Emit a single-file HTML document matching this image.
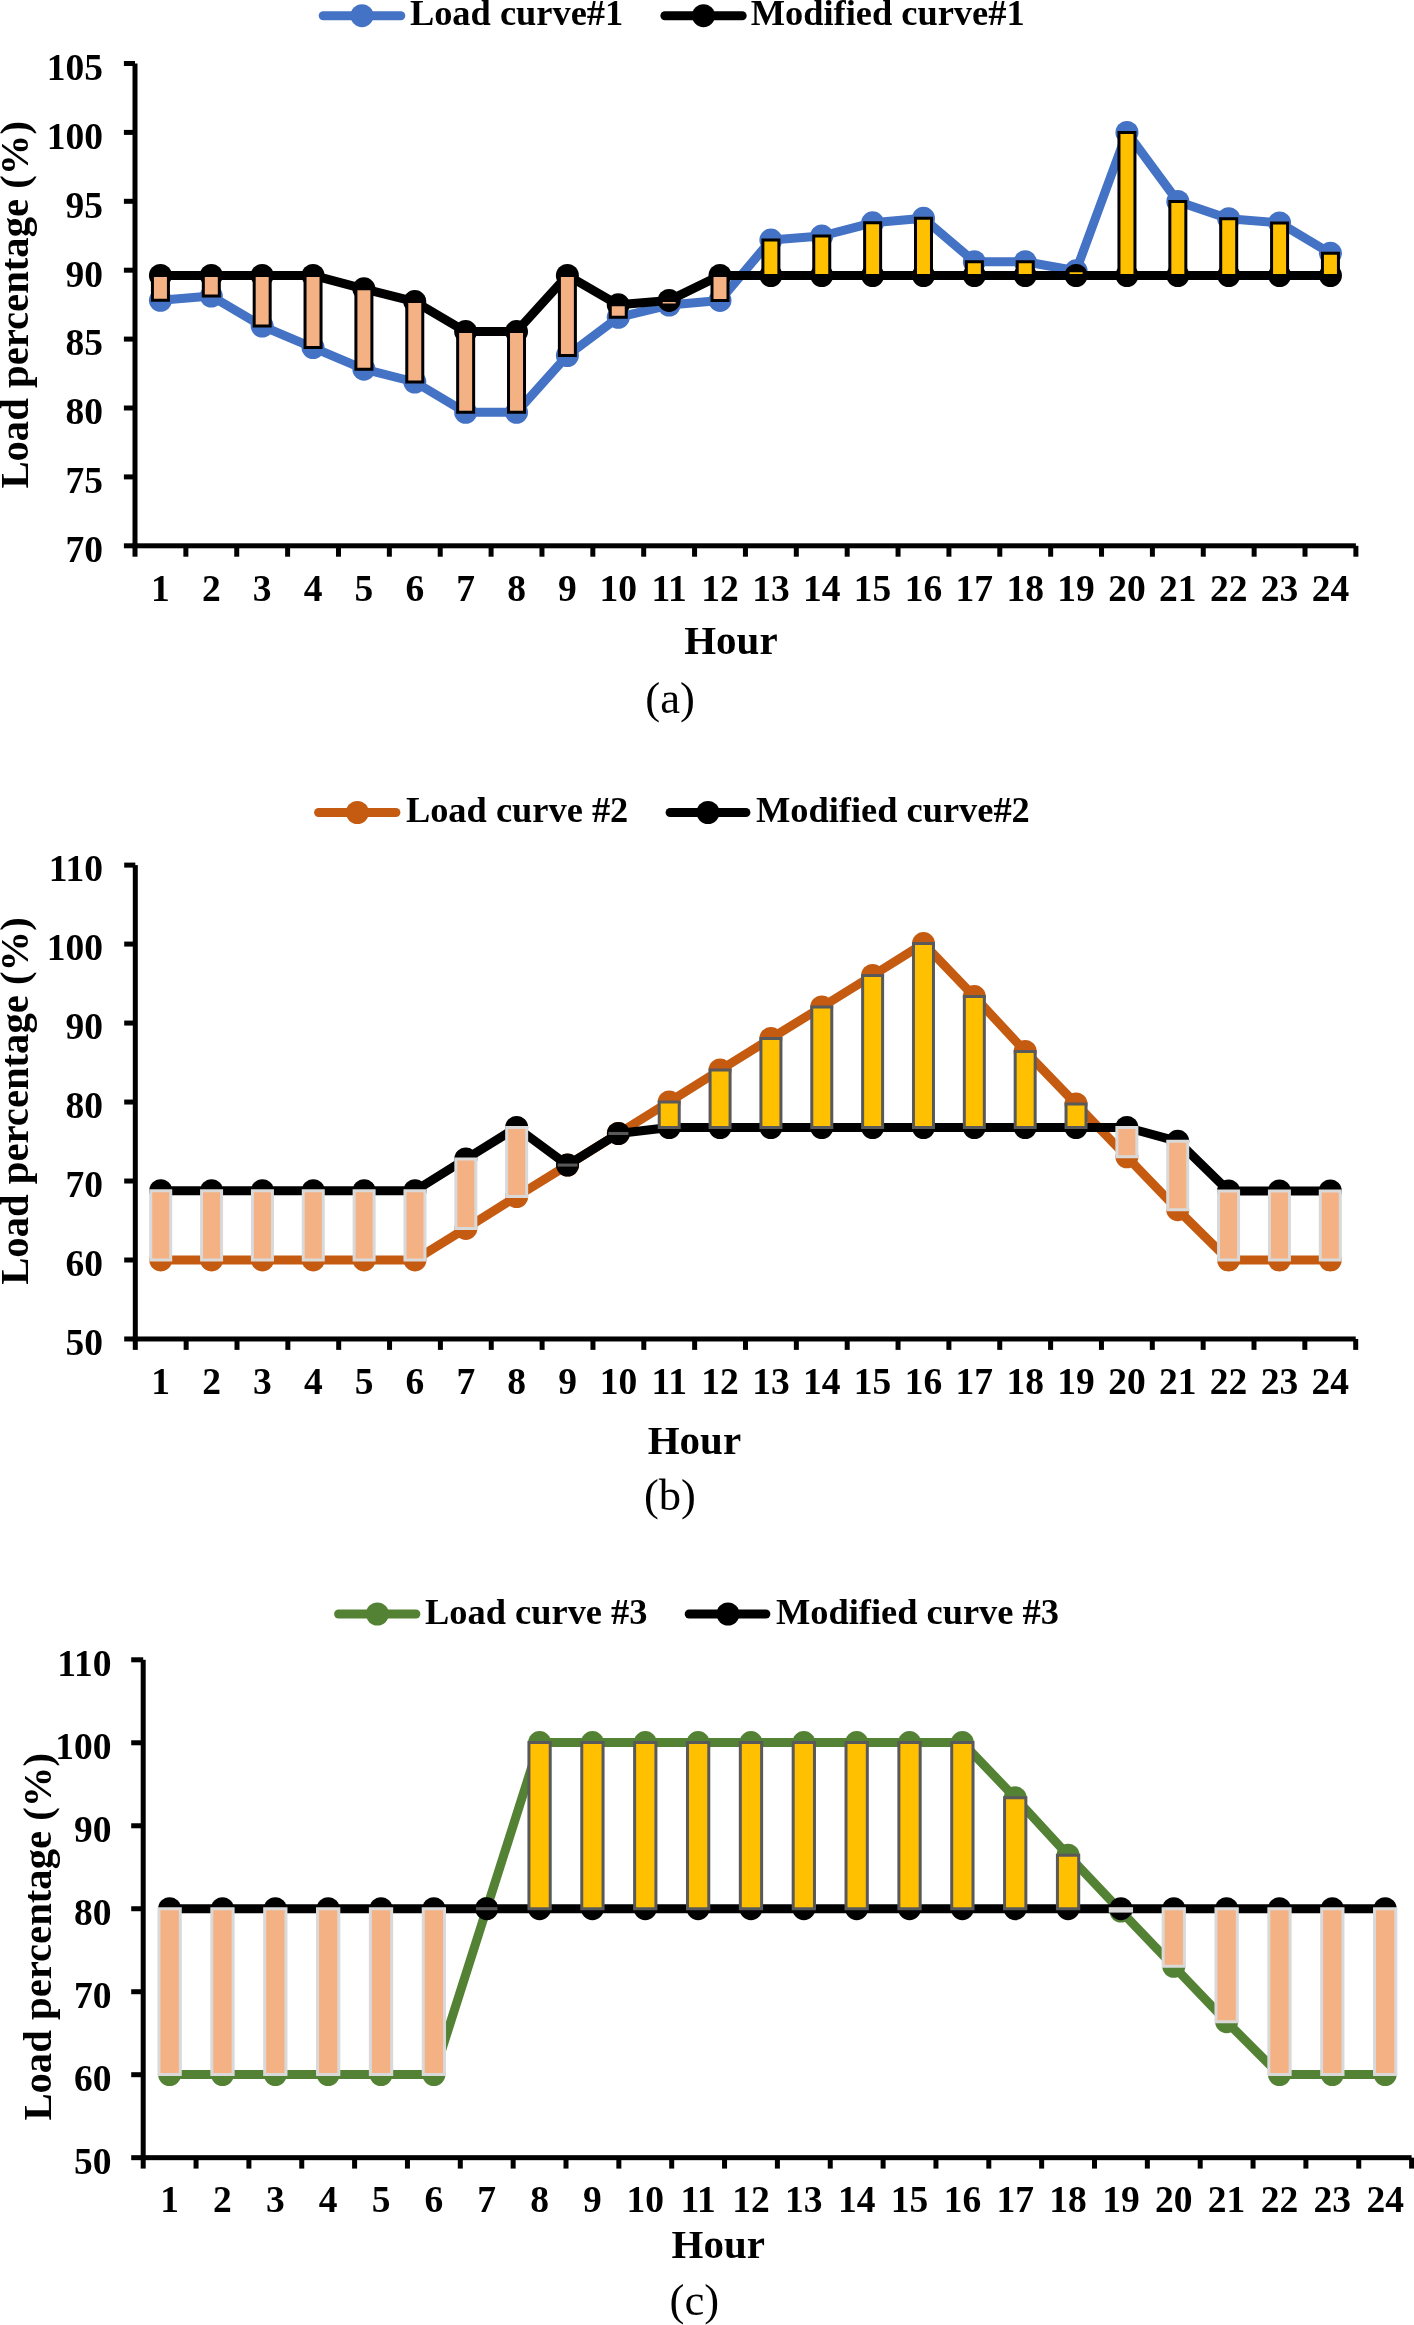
<!DOCTYPE html>
<html><head><meta charset="utf-8"><title>Load curves</title>
<style>html,body{margin:0;padding:0;background:#fff;}svg{display:block;}svg{will-change:transform;}</style>
</head><body>
<svg width="1414" height="2325" viewBox="0 0 1414 2325" font-family='"Liberation Serif", serif'>
<rect width="1414" height="2325" fill="#fff"/>
<g fill="#000">
<rect x="132.5" y="63.5" width="5" height="493.2"/>
<rect x="132.5" y="543.3" width="1223.38" height="5"/>
<rect x="123.9" y="543.3" width="11.1" height="5"/>
<rect x="123.9" y="474.4" width="11.1" height="5"/>
<rect x="123.9" y="405.5" width="11.1" height="5"/>
<rect x="123.9" y="336.6" width="11.1" height="5"/>
<rect x="123.9" y="267.7" width="11.1" height="5"/>
<rect x="123.9" y="198.8" width="11.1" height="5"/>
<rect x="123.9" y="129.9" width="11.1" height="5"/>
<rect x="123.9" y="61" width="11.1" height="5"/>
<rect x="183.37" y="545.8" width="5" height="10.9"/>
<rect x="234.24" y="545.8" width="5" height="10.9"/>
<rect x="285.11" y="545.8" width="5" height="10.9"/>
<rect x="335.98" y="545.8" width="5" height="10.9"/>
<rect x="386.85" y="545.8" width="5" height="10.9"/>
<rect x="437.72" y="545.8" width="5" height="10.9"/>
<rect x="488.59" y="545.8" width="5" height="10.9"/>
<rect x="539.46" y="545.8" width="5" height="10.9"/>
<rect x="590.33" y="545.8" width="5" height="10.9"/>
<rect x="641.2" y="545.8" width="5" height="10.9"/>
<rect x="692.07" y="545.8" width="5" height="10.9"/>
<rect x="742.94" y="545.8" width="5" height="10.9"/>
<rect x="793.81" y="545.8" width="5" height="10.9"/>
<rect x="844.68" y="545.8" width="5" height="10.9"/>
<rect x="895.55" y="545.8" width="5" height="10.9"/>
<rect x="946.42" y="545.8" width="5" height="10.9"/>
<rect x="997.29" y="545.8" width="5" height="10.9"/>
<rect x="1048.16" y="545.8" width="5" height="10.9"/>
<rect x="1099.03" y="545.8" width="5" height="10.9"/>
<rect x="1149.9" y="545.8" width="5" height="10.9"/>
<rect x="1200.77" y="545.8" width="5" height="10.9"/>
<rect x="1251.64" y="545.8" width="5" height="10.9"/>
<rect x="1302.51" y="545.8" width="5" height="10.9"/>
<rect x="1353.38" y="545.8" width="5" height="10.9"/>
</g>
<text x="103" y="562.1" font-size="37.5" text-anchor="end" font-weight="bold" >70</text>
<text x="103" y="493.2" font-size="37.5" text-anchor="end" font-weight="bold" >75</text>
<text x="103" y="424.3" font-size="37.5" text-anchor="end" font-weight="bold" >80</text>
<text x="103" y="355.4" font-size="37.5" text-anchor="end" font-weight="bold" >85</text>
<text x="103" y="286.5" font-size="37.5" text-anchor="end" font-weight="bold" >90</text>
<text x="103" y="217.6" font-size="37.5" text-anchor="end" font-weight="bold" >95</text>
<text x="103" y="148.7" font-size="37.5" text-anchor="end" font-weight="bold" >100</text>
<text x="103" y="79.8" font-size="37.5" text-anchor="end" font-weight="bold" >105</text>
<text x="160.44" y="601.3" font-size="37.5" text-anchor="middle" font-weight="bold" >1</text>
<text x="211.31" y="601.3" font-size="37.5" text-anchor="middle" font-weight="bold" >2</text>
<text x="262.18" y="601.3" font-size="37.5" text-anchor="middle" font-weight="bold" >3</text>
<text x="313.04" y="601.3" font-size="37.5" text-anchor="middle" font-weight="bold" >4</text>
<text x="363.91" y="601.3" font-size="37.5" text-anchor="middle" font-weight="bold" >5</text>
<text x="414.78" y="601.3" font-size="37.5" text-anchor="middle" font-weight="bold" >6</text>
<text x="465.65" y="601.3" font-size="37.5" text-anchor="middle" font-weight="bold" >7</text>
<text x="516.52" y="601.3" font-size="37.5" text-anchor="middle" font-weight="bold" >8</text>
<text x="567.39" y="601.3" font-size="37.5" text-anchor="middle" font-weight="bold" >9</text>
<text x="618.26" y="601.3" font-size="37.5" text-anchor="middle" font-weight="bold" >10</text>
<text x="669.13" y="601.3" font-size="37.5" text-anchor="middle" font-weight="bold" >11</text>
<text x="720" y="601.3" font-size="37.5" text-anchor="middle" font-weight="bold" >12</text>
<text x="770.88" y="601.3" font-size="37.5" text-anchor="middle" font-weight="bold" >13</text>
<text x="821.75" y="601.3" font-size="37.5" text-anchor="middle" font-weight="bold" >14</text>
<text x="872.62" y="601.3" font-size="37.5" text-anchor="middle" font-weight="bold" >15</text>
<text x="923.49" y="601.3" font-size="37.5" text-anchor="middle" font-weight="bold" >16</text>
<text x="974.35" y="601.3" font-size="37.5" text-anchor="middle" font-weight="bold" >17</text>
<text x="1025.22" y="601.3" font-size="37.5" text-anchor="middle" font-weight="bold" >18</text>
<text x="1076.09" y="601.3" font-size="37.5" text-anchor="middle" font-weight="bold" >19</text>
<text x="1126.96" y="601.3" font-size="37.5" text-anchor="middle" font-weight="bold" >20</text>
<text x="1177.84" y="601.3" font-size="37.5" text-anchor="middle" font-weight="bold" >21</text>
<text x="1228.7" y="601.3" font-size="37.5" text-anchor="middle" font-weight="bold" >22</text>
<text x="1279.58" y="601.3" font-size="37.5" text-anchor="middle" font-weight="bold" >23</text>
<text x="1330.44" y="601.3" font-size="37.5" text-anchor="middle" font-weight="bold" >24</text>
<text x="730.9" y="653.5" font-size="41" text-anchor="middle" font-weight="bold" >Hour</text>
<text x="28" y="304.8" font-size="40.7" text-anchor="middle" font-weight="bold" transform="rotate(-90 28 304.8)">Load percentage (%)</text>
<text x="670.1" y="712.8" font-size="44.7" text-anchor="middle" font-weight="normal" >(a)</text>
<line x1="323.2" y1="15.7" x2="400.8" y2="15.7" stroke="#4472C4" stroke-width="9" stroke-linecap="round"/>
<circle cx="362" cy="15.7" r="11.5" fill="#4472C4"/>
<text x="409.9" y="24.8" font-size="36.4" text-anchor="start" font-weight="bold" >Load curve#1</text>
<line x1="664.9" y1="15.7" x2="742.2" y2="15.7" stroke="#000" stroke-width="9" stroke-linecap="round"/>
<circle cx="703.5" cy="15.7" r="11.5" fill="#000"/>
<text x="750.7" y="24.8" font-size="36.4" text-anchor="start" font-weight="bold" >Modified curve#1</text>
<polyline points="160.44,300.3 211.31,296.1 262.18,326.1 313.04,347.6 363.91,369.2 414.78,382 465.65,412.3 516.52,412.3 567.39,355.5 618.26,317.3 669.13,305.1 720,300.4 770.88,240.1 821.75,236 872.62,222.8 923.49,218.3 974.35,261.7 1025.22,261.7 1076.09,270.8 1126.96,132.5 1177.84,201.5 1228.7,218.7 1279.58,222.9 1330.44,253.3" fill="none" stroke="#4472C4" stroke-width="9" stroke-linejoin="round" stroke-linecap="round"/>
<g fill="#4472C4"><circle cx="160.44" cy="300.3" r="11.5"/><circle cx="211.31" cy="296.1" r="11.5"/><circle cx="262.18" cy="326.1" r="11.5"/><circle cx="313.04" cy="347.6" r="11.5"/><circle cx="363.91" cy="369.2" r="11.5"/><circle cx="414.78" cy="382" r="11.5"/><circle cx="465.65" cy="412.3" r="11.5"/><circle cx="516.52" cy="412.3" r="11.5"/><circle cx="567.39" cy="355.5" r="11.5"/><circle cx="618.26" cy="317.3" r="11.5"/><circle cx="669.13" cy="305.1" r="11.5"/><circle cx="720" cy="300.4" r="11.5"/><circle cx="770.88" cy="240.1" r="11.5"/><circle cx="821.75" cy="236" r="11.5"/><circle cx="872.62" cy="222.8" r="11.5"/><circle cx="923.49" cy="218.3" r="11.5"/><circle cx="974.35" cy="261.7" r="11.5"/><circle cx="1025.22" cy="261.7" r="11.5"/><circle cx="1076.09" cy="270.8" r="11.5"/><circle cx="1126.96" cy="132.5" r="11.5"/><circle cx="1177.84" cy="201.5" r="11.5"/><circle cx="1228.7" cy="218.7" r="11.5"/><circle cx="1279.58" cy="222.9" r="11.5"/><circle cx="1330.44" cy="253.3" r="11.5"/></g>
<polyline points="160.44,275.4 211.31,275.4 262.18,275.4 313.04,275.4 363.91,288.8 414.78,301.6 465.65,331.6 516.52,331.6 567.39,275.4 618.26,304.8 669.13,300.4 720,275.5 770.88,275.5 821.75,275.5 872.62,275.5 923.49,275.5 974.35,275.5 1025.22,275.5 1076.09,275.5 1126.96,275.5 1177.84,275.5 1228.7,275.5 1279.58,275.5 1330.44,275.5" fill="none" stroke="#000" stroke-width="9" stroke-linejoin="round" stroke-linecap="round"/>
<g fill="#000"><circle cx="160.44" cy="275.4" r="11.5"/><circle cx="211.31" cy="275.4" r="11.5"/><circle cx="262.18" cy="275.4" r="11.5"/><circle cx="313.04" cy="275.4" r="11.5"/><circle cx="363.91" cy="288.8" r="11.5"/><circle cx="414.78" cy="301.6" r="11.5"/><circle cx="465.65" cy="331.6" r="11.5"/><circle cx="516.52" cy="331.6" r="11.5"/><circle cx="567.39" cy="275.4" r="11.5"/><circle cx="618.26" cy="304.8" r="11.5"/><circle cx="669.13" cy="300.4" r="11.5"/><circle cx="720" cy="275.5" r="11.5"/><circle cx="770.88" cy="275.5" r="11.5"/><circle cx="821.75" cy="275.5" r="11.5"/><circle cx="872.62" cy="275.5" r="11.5"/><circle cx="923.49" cy="275.5" r="11.5"/><circle cx="974.35" cy="275.5" r="11.5"/><circle cx="1025.22" cy="275.5" r="11.5"/><circle cx="1076.09" cy="275.5" r="11.5"/><circle cx="1126.96" cy="275.5" r="11.5"/><circle cx="1177.84" cy="275.5" r="11.5"/><circle cx="1228.7" cy="275.5" r="11.5"/><circle cx="1279.58" cy="275.5" r="11.5"/><circle cx="1330.44" cy="275.5" r="11.5"/></g>
<path d="M152.44 275.4h16v24.9h-16z" fill="#F4B183" stroke="#000" stroke-width="3"/>
<path d="M203.31 275.4h16v20.7h-16z" fill="#F4B183" stroke="#000" stroke-width="3"/>
<path d="M254.18 275.4h16v50.7h-16z" fill="#F4B183" stroke="#000" stroke-width="3"/>
<path d="M305.04 275.4h16v72.2h-16z" fill="#F4B183" stroke="#000" stroke-width="3"/>
<path d="M355.91 288.8h16v80.4h-16z" fill="#F4B183" stroke="#000" stroke-width="3"/>
<path d="M406.78 301.6h16v80.4h-16z" fill="#F4B183" stroke="#000" stroke-width="3"/>
<path d="M457.65 331.6h16v80.7h-16z" fill="#F4B183" stroke="#000" stroke-width="3"/>
<path d="M508.52 331.6h16v80.7h-16z" fill="#F4B183" stroke="#000" stroke-width="3"/>
<path d="M559.39 275.4h16v80.1h-16z" fill="#F4B183" stroke="#000" stroke-width="3"/>
<path d="M610.26 304.8h16v12.5h-16z" fill="#F4B183" stroke="#000" stroke-width="3"/>
<path d="M661.13 300.4h16v4.7h-16z" fill="#F4B183" stroke="#000" stroke-width="3"/>
<path d="M712 275.5h16v24.9h-16z" fill="#F4B183" stroke="#000" stroke-width="3"/>
<path d="M762.88 240.1h16v35.4h-16z" fill="#FFC000" stroke="#000" stroke-width="3"/>
<path d="M813.75 236h16v39.5h-16z" fill="#FFC000" stroke="#000" stroke-width="3"/>
<path d="M864.62 222.8h16v52.7h-16z" fill="#FFC000" stroke="#000" stroke-width="3"/>
<path d="M915.49 218.3h16v57.2h-16z" fill="#FFC000" stroke="#000" stroke-width="3"/>
<path d="M966.35 261.7h16v13.8h-16z" fill="#FFC000" stroke="#000" stroke-width="3"/>
<path d="M1017.22 261.7h16v13.8h-16z" fill="#FFC000" stroke="#000" stroke-width="3"/>
<path d="M1068.09 270.8h16v4.7h-16z" fill="#FFC000" stroke="#000" stroke-width="3"/>
<path d="M1118.96 132.5h16v143h-16z" fill="#FFC000" stroke="#000" stroke-width="3"/>
<path d="M1169.84 201.5h16v74h-16z" fill="#FFC000" stroke="#000" stroke-width="3"/>
<path d="M1220.7 218.7h16v56.8h-16z" fill="#FFC000" stroke="#000" stroke-width="3"/>
<path d="M1271.58 222.9h16v52.6h-16z" fill="#FFC000" stroke="#000" stroke-width="3"/>
<path d="M1322.44 253.3h16v22.2h-16z" fill="#FFC000" stroke="#000" stroke-width="3"/>
<g fill="#000">
<rect x="132.8" y="865.1" width="5" height="484.78"/>
<rect x="132.8" y="1336.48" width="1222.9" height="5"/>
<rect x="124.2" y="1336.48" width="11.1" height="5"/>
<rect x="124.2" y="1257.5" width="11.1" height="5"/>
<rect x="124.2" y="1178.52" width="11.1" height="5"/>
<rect x="124.2" y="1099.54" width="11.1" height="5"/>
<rect x="124.2" y="1020.56" width="11.1" height="5"/>
<rect x="124.2" y="941.58" width="11.1" height="5"/>
<rect x="124.2" y="862.6" width="11.1" height="5"/>
<rect x="183.65" y="1338.98" width="5" height="10.9"/>
<rect x="234.5" y="1338.98" width="5" height="10.9"/>
<rect x="285.35" y="1338.98" width="5" height="10.9"/>
<rect x="336.2" y="1338.98" width="5" height="10.9"/>
<rect x="387.05" y="1338.98" width="5" height="10.9"/>
<rect x="437.9" y="1338.98" width="5" height="10.9"/>
<rect x="488.75" y="1338.98" width="5" height="10.9"/>
<rect x="539.6" y="1338.98" width="5" height="10.9"/>
<rect x="590.45" y="1338.98" width="5" height="10.9"/>
<rect x="641.3" y="1338.98" width="5" height="10.9"/>
<rect x="692.15" y="1338.98" width="5" height="10.9"/>
<rect x="743" y="1338.98" width="5" height="10.9"/>
<rect x="793.85" y="1338.98" width="5" height="10.9"/>
<rect x="844.7" y="1338.98" width="5" height="10.9"/>
<rect x="895.55" y="1338.98" width="5" height="10.9"/>
<rect x="946.4" y="1338.98" width="5" height="10.9"/>
<rect x="997.25" y="1338.98" width="5" height="10.9"/>
<rect x="1048.1" y="1338.98" width="5" height="10.9"/>
<rect x="1098.95" y="1338.98" width="5" height="10.9"/>
<rect x="1149.8" y="1338.98" width="5" height="10.9"/>
<rect x="1200.65" y="1338.98" width="5" height="10.9"/>
<rect x="1251.5" y="1338.98" width="5" height="10.9"/>
<rect x="1302.35" y="1338.98" width="5" height="10.9"/>
<rect x="1353.2" y="1338.98" width="5" height="10.9"/>
</g>
<text x="103" y="1355.28" font-size="37.5" text-anchor="end" font-weight="bold" >50</text>
<text x="103" y="1276.3" font-size="37.5" text-anchor="end" font-weight="bold" >60</text>
<text x="103" y="1197.32" font-size="37.5" text-anchor="end" font-weight="bold" >70</text>
<text x="103" y="1118.34" font-size="37.5" text-anchor="end" font-weight="bold" >80</text>
<text x="103" y="1039.36" font-size="37.5" text-anchor="end" font-weight="bold" >90</text>
<text x="103" y="960.38" font-size="37.5" text-anchor="end" font-weight="bold" >100</text>
<text x="103" y="881.4" font-size="37.5" text-anchor="end" font-weight="bold" >110</text>
<text x="160.73" y="1394.1" font-size="37.5" text-anchor="middle" font-weight="bold" >1</text>
<text x="211.58" y="1394.1" font-size="37.5" text-anchor="middle" font-weight="bold" >2</text>
<text x="262.43" y="1394.1" font-size="37.5" text-anchor="middle" font-weight="bold" >3</text>
<text x="313.27" y="1394.1" font-size="37.5" text-anchor="middle" font-weight="bold" >4</text>
<text x="364.12" y="1394.1" font-size="37.5" text-anchor="middle" font-weight="bold" >5</text>
<text x="414.98" y="1394.1" font-size="37.5" text-anchor="middle" font-weight="bold" >6</text>
<text x="465.83" y="1394.1" font-size="37.5" text-anchor="middle" font-weight="bold" >7</text>
<text x="516.67" y="1394.1" font-size="37.5" text-anchor="middle" font-weight="bold" >8</text>
<text x="567.53" y="1394.1" font-size="37.5" text-anchor="middle" font-weight="bold" >9</text>
<text x="618.38" y="1394.1" font-size="37.5" text-anchor="middle" font-weight="bold" >10</text>
<text x="669.23" y="1394.1" font-size="37.5" text-anchor="middle" font-weight="bold" >11</text>
<text x="720.08" y="1394.1" font-size="37.5" text-anchor="middle" font-weight="bold" >12</text>
<text x="770.92" y="1394.1" font-size="37.5" text-anchor="middle" font-weight="bold" >13</text>
<text x="821.78" y="1394.1" font-size="37.5" text-anchor="middle" font-weight="bold" >14</text>
<text x="872.62" y="1394.1" font-size="37.5" text-anchor="middle" font-weight="bold" >15</text>
<text x="923.48" y="1394.1" font-size="37.5" text-anchor="middle" font-weight="bold" >16</text>
<text x="974.33" y="1394.1" font-size="37.5" text-anchor="middle" font-weight="bold" >17</text>
<text x="1025.17" y="1394.1" font-size="37.5" text-anchor="middle" font-weight="bold" >18</text>
<text x="1076.03" y="1394.1" font-size="37.5" text-anchor="middle" font-weight="bold" >19</text>
<text x="1126.88" y="1394.1" font-size="37.5" text-anchor="middle" font-weight="bold" >20</text>
<text x="1177.72" y="1394.1" font-size="37.5" text-anchor="middle" font-weight="bold" >21</text>
<text x="1228.58" y="1394.1" font-size="37.5" text-anchor="middle" font-weight="bold" >22</text>
<text x="1279.42" y="1394.1" font-size="37.5" text-anchor="middle" font-weight="bold" >23</text>
<text x="1330.28" y="1394.1" font-size="37.5" text-anchor="middle" font-weight="bold" >24</text>
<text x="694.4" y="1453.9" font-size="41" text-anchor="middle" font-weight="bold" >Hour</text>
<text x="27.5" y="1101" font-size="40.7" text-anchor="middle" font-weight="bold" transform="rotate(-90 27.5 1101)">Load percentage (%)</text>
<text x="670" y="1510.1" font-size="44.5" text-anchor="middle" font-weight="normal" >(b)</text>
<line x1="318.6" y1="812.5" x2="395.9" y2="812.5" stroke="#C55A11" stroke-width="9" stroke-linecap="round"/>
<circle cx="357.4" cy="812.5" r="11.5" fill="#C55A11"/>
<text x="405.9" y="821.9" font-size="36.4" text-anchor="start" font-weight="bold" >Load curve #2</text>
<line x1="670.1" y1="812.5" x2="745.9" y2="812.5" stroke="#000" stroke-width="9" stroke-linecap="round"/>
<circle cx="708" cy="812.5" r="11.5" fill="#000"/>
<text x="755.9" y="821.9" font-size="36.4" text-anchor="start" font-weight="bold" >Modified curve#2</text>
<polyline points="160.73,1259.9 211.58,1259.9 262.43,1259.9 313.27,1259.9 364.12,1259.9 414.98,1259.9 465.83,1228.4 516.67,1196.5 567.53,1165.05 618.38,1133.45 669.23,1101.9 720.08,1070 770.92,1038.4 821.78,1007 872.62,975.5 923.48,943.6 974.33,996.6 1025.17,1051.4 1076.03,1104 1126.88,1156.8 1177.72,1209.7 1228.58,1260 1279.42,1260 1330.28,1260" fill="none" stroke="#C55A11" stroke-width="9" stroke-linejoin="round" stroke-linecap="round"/>
<g fill="#C55A11"><circle cx="160.73" cy="1259.9" r="11.5"/><circle cx="211.58" cy="1259.9" r="11.5"/><circle cx="262.43" cy="1259.9" r="11.5"/><circle cx="313.27" cy="1259.9" r="11.5"/><circle cx="364.12" cy="1259.9" r="11.5"/><circle cx="414.98" cy="1259.9" r="11.5"/><circle cx="465.83" cy="1228.4" r="11.5"/><circle cx="516.67" cy="1196.5" r="11.5"/><circle cx="567.53" cy="1165.05" r="11.5"/><circle cx="618.38" cy="1133.45" r="11.5"/><circle cx="669.23" cy="1101.9" r="11.5"/><circle cx="720.08" cy="1070" r="11.5"/><circle cx="770.92" cy="1038.4" r="11.5"/><circle cx="821.78" cy="1007" r="11.5"/><circle cx="872.62" cy="975.5" r="11.5"/><circle cx="923.48" cy="943.6" r="11.5"/><circle cx="974.33" cy="996.6" r="11.5"/><circle cx="1025.17" cy="1051.4" r="11.5"/><circle cx="1076.03" cy="1104" r="11.5"/><circle cx="1126.88" cy="1156.8" r="11.5"/><circle cx="1177.72" cy="1209.7" r="11.5"/><circle cx="1228.58" cy="1260" r="11.5"/><circle cx="1279.42" cy="1260" r="11.5"/><circle cx="1330.28" cy="1260" r="11.5"/></g>
<polyline points="160.73,1190.7 211.58,1190.7 262.43,1190.7 313.27,1190.7 364.12,1190.7 414.98,1190.7 465.83,1159 516.67,1127.5 567.53,1165.1 618.38,1133.5 669.23,1127.5 720.08,1127.5 770.92,1127.5 821.78,1127.5 872.62,1127.5 923.48,1127.5 974.33,1127.5 1025.17,1127.5 1076.03,1127.5 1126.88,1127.5 1177.72,1141.3 1228.58,1191 1279.42,1191 1330.28,1191" fill="none" stroke="#000" stroke-width="9" stroke-linejoin="round" stroke-linecap="round"/>
<g fill="#000"><circle cx="160.73" cy="1190.7" r="11.5"/><circle cx="211.58" cy="1190.7" r="11.5"/><circle cx="262.43" cy="1190.7" r="11.5"/><circle cx="313.27" cy="1190.7" r="11.5"/><circle cx="364.12" cy="1190.7" r="11.5"/><circle cx="414.98" cy="1190.7" r="11.5"/><circle cx="465.83" cy="1159" r="11.5"/><circle cx="516.67" cy="1127.5" r="11.5"/><circle cx="567.53" cy="1165.1" r="11.5"/><circle cx="618.38" cy="1133.5" r="11.5"/><circle cx="669.23" cy="1127.5" r="11.5"/><circle cx="720.08" cy="1127.5" r="11.5"/><circle cx="770.92" cy="1127.5" r="11.5"/><circle cx="821.78" cy="1127.5" r="11.5"/><circle cx="872.62" cy="1127.5" r="11.5"/><circle cx="923.48" cy="1127.5" r="11.5"/><circle cx="974.33" cy="1127.5" r="11.5"/><circle cx="1025.17" cy="1127.5" r="11.5"/><circle cx="1076.03" cy="1127.5" r="11.5"/><circle cx="1126.88" cy="1127.5" r="11.5"/><circle cx="1177.72" cy="1141.3" r="11.5"/><circle cx="1228.58" cy="1191" r="11.5"/><circle cx="1279.42" cy="1191" r="11.5"/><circle cx="1330.28" cy="1191" r="11.5"/></g>
<path d="M150.73 1190.7h20v69.2h-20z" fill="#F4B183" stroke="#D9D9D9" stroke-width="3"/>
<path d="M201.58 1190.7h20v69.2h-20z" fill="#F4B183" stroke="#D9D9D9" stroke-width="3"/>
<path d="M252.43 1190.7h20v69.2h-20z" fill="#F4B183" stroke="#D9D9D9" stroke-width="3"/>
<path d="M303.27 1190.7h20v69.2h-20z" fill="#F4B183" stroke="#D9D9D9" stroke-width="3"/>
<path d="M354.12 1190.7h20v69.2h-20z" fill="#F4B183" stroke="#D9D9D9" stroke-width="3"/>
<path d="M404.98 1190.7h20v69.2h-20z" fill="#F4B183" stroke="#D9D9D9" stroke-width="3"/>
<path d="M455.83 1159h20v69.4h-20z" fill="#F4B183" stroke="#D9D9D9" stroke-width="3"/>
<path d="M506.67 1127.5h20v69h-20z" fill="#F4B183" stroke="#D9D9D9" stroke-width="3"/>
<rect x="557.53" y="1163.57" width="20" height="3.05" fill="#595959"/>
<rect x="608.38" y="1131.97" width="20" height="3.05" fill="#595959"/>
<path d="M659.23 1101.9h20v25.6h-20z" fill="#FFC000" stroke="#595959" stroke-width="3"/>
<path d="M710.08 1070h20v57.5h-20z" fill="#FFC000" stroke="#595959" stroke-width="3"/>
<path d="M760.92 1038.4h20v89.1h-20z" fill="#FFC000" stroke="#595959" stroke-width="3"/>
<path d="M811.78 1007h20v120.5h-20z" fill="#FFC000" stroke="#595959" stroke-width="3"/>
<path d="M862.62 975.5h20v152h-20z" fill="#FFC000" stroke="#595959" stroke-width="3"/>
<path d="M913.48 943.6h20v183.9h-20z" fill="#FFC000" stroke="#595959" stroke-width="3"/>
<path d="M964.33 996.6h20v130.9h-20z" fill="#FFC000" stroke="#595959" stroke-width="3"/>
<path d="M1015.17 1051.4h20v76.1h-20z" fill="#FFC000" stroke="#595959" stroke-width="3"/>
<path d="M1066.03 1104h20v23.5h-20z" fill="#FFC000" stroke="#595959" stroke-width="3"/>
<path d="M1116.88 1127.5h20v29.3h-20z" fill="#F4B183" stroke="#D9D9D9" stroke-width="3"/>
<path d="M1167.72 1141.3h20v68.4h-20z" fill="#F4B183" stroke="#D9D9D9" stroke-width="3"/>
<path d="M1218.58 1191h20v69h-20z" fill="#F4B183" stroke="#D9D9D9" stroke-width="3"/>
<path d="M1269.42 1191h20v69h-20z" fill="#F4B183" stroke="#D9D9D9" stroke-width="3"/>
<path d="M1320.28 1191h20v69h-20z" fill="#F4B183" stroke="#D9D9D9" stroke-width="3"/>
<g fill="#000">
<rect x="140.7" y="1659.8" width="5" height="508.78"/>
<rect x="140.7" y="2155.18" width="1270.9" height="5"/>
<rect x="131.2" y="2155.18" width="12" height="5"/>
<rect x="131.2" y="2072.2" width="12" height="5"/>
<rect x="131.2" y="1989.22" width="12" height="5"/>
<rect x="131.2" y="1906.24" width="12" height="5"/>
<rect x="131.2" y="1823.26" width="12" height="5"/>
<rect x="131.2" y="1740.28" width="12" height="5"/>
<rect x="131.2" y="1657.3" width="12" height="5"/>
<rect x="193.55" y="2157.68" width="5" height="10.9"/>
<rect x="246.4" y="2157.68" width="5" height="10.9"/>
<rect x="299.25" y="2157.68" width="5" height="10.9"/>
<rect x="352.1" y="2157.68" width="5" height="10.9"/>
<rect x="404.95" y="2157.68" width="5" height="10.9"/>
<rect x="457.8" y="2157.68" width="5" height="10.9"/>
<rect x="510.65" y="2157.68" width="5" height="10.9"/>
<rect x="563.5" y="2157.68" width="5" height="10.9"/>
<rect x="616.35" y="2157.68" width="5" height="10.9"/>
<rect x="669.2" y="2157.68" width="5" height="10.9"/>
<rect x="722.05" y="2157.68" width="5" height="10.9"/>
<rect x="774.9" y="2157.68" width="5" height="10.9"/>
<rect x="827.75" y="2157.68" width="5" height="10.9"/>
<rect x="880.6" y="2157.68" width="5" height="10.9"/>
<rect x="933.45" y="2157.68" width="5" height="10.9"/>
<rect x="986.3" y="2157.68" width="5" height="10.9"/>
<rect x="1039.15" y="2157.68" width="5" height="10.9"/>
<rect x="1092" y="2157.68" width="5" height="10.9"/>
<rect x="1144.85" y="2157.68" width="5" height="10.9"/>
<rect x="1197.7" y="2157.68" width="5" height="10.9"/>
<rect x="1250.55" y="2157.68" width="5" height="10.9"/>
<rect x="1303.4" y="2157.68" width="5" height="10.9"/>
<rect x="1356.25" y="2157.68" width="5" height="10.9"/>
<rect x="1409.1" y="2157.68" width="5" height="10.9"/>
</g>
<text x="111.4" y="2173.98" font-size="37.5" text-anchor="end" font-weight="bold" >50</text>
<text x="111.4" y="2091" font-size="37.5" text-anchor="end" font-weight="bold" >60</text>
<text x="111.4" y="2008.02" font-size="37.5" text-anchor="end" font-weight="bold" >70</text>
<text x="111.4" y="1925.04" font-size="37.5" text-anchor="end" font-weight="bold" >80</text>
<text x="111.4" y="1842.06" font-size="37.5" text-anchor="end" font-weight="bold" >90</text>
<text x="111.4" y="1759.08" font-size="37.5" text-anchor="end" font-weight="bold" >100</text>
<text x="111.4" y="1676.1" font-size="37.5" text-anchor="end" font-weight="bold" >110</text>
<text x="169.62" y="2212.2" font-size="37.5" text-anchor="middle" font-weight="bold" >1</text>
<text x="222.47" y="2212.2" font-size="37.5" text-anchor="middle" font-weight="bold" >2</text>
<text x="275.32" y="2212.2" font-size="37.5" text-anchor="middle" font-weight="bold" >3</text>
<text x="328.17" y="2212.2" font-size="37.5" text-anchor="middle" font-weight="bold" >4</text>
<text x="381.02" y="2212.2" font-size="37.5" text-anchor="middle" font-weight="bold" >5</text>
<text x="433.88" y="2212.2" font-size="37.5" text-anchor="middle" font-weight="bold" >6</text>
<text x="486.73" y="2212.2" font-size="37.5" text-anchor="middle" font-weight="bold" >7</text>
<text x="539.58" y="2212.2" font-size="37.5" text-anchor="middle" font-weight="bold" >8</text>
<text x="592.42" y="2212.2" font-size="37.5" text-anchor="middle" font-weight="bold" >9</text>
<text x="645.27" y="2212.2" font-size="37.5" text-anchor="middle" font-weight="bold" >10</text>
<text x="698.12" y="2212.2" font-size="37.5" text-anchor="middle" font-weight="bold" >11</text>
<text x="750.97" y="2212.2" font-size="37.5" text-anchor="middle" font-weight="bold" >12</text>
<text x="803.83" y="2212.2" font-size="37.5" text-anchor="middle" font-weight="bold" >13</text>
<text x="856.67" y="2212.2" font-size="37.5" text-anchor="middle" font-weight="bold" >14</text>
<text x="909.53" y="2212.2" font-size="37.5" text-anchor="middle" font-weight="bold" >15</text>
<text x="962.38" y="2212.2" font-size="37.5" text-anchor="middle" font-weight="bold" >16</text>
<text x="1015.22" y="2212.2" font-size="37.5" text-anchor="middle" font-weight="bold" >17</text>
<text x="1068.08" y="2212.2" font-size="37.5" text-anchor="middle" font-weight="bold" >18</text>
<text x="1120.92" y="2212.2" font-size="37.5" text-anchor="middle" font-weight="bold" >19</text>
<text x="1173.78" y="2212.2" font-size="37.5" text-anchor="middle" font-weight="bold" >20</text>
<text x="1226.62" y="2212.2" font-size="37.5" text-anchor="middle" font-weight="bold" >21</text>
<text x="1279.48" y="2212.2" font-size="37.5" text-anchor="middle" font-weight="bold" >22</text>
<text x="1332.33" y="2212.2" font-size="37.5" text-anchor="middle" font-weight="bold" >23</text>
<text x="1385.18" y="2212.2" font-size="37.5" text-anchor="middle" font-weight="bold" >24</text>
<text x="718.3" y="2257.9" font-size="41" text-anchor="middle" font-weight="bold" >Hour</text>
<text x="51" y="1936.8" font-size="40.7" text-anchor="middle" font-weight="bold" transform="rotate(-90 51 1936.8)">Load percentage (%)</text>
<text x="694.4" y="2315.2" font-size="44.7" text-anchor="middle" font-weight="normal" >(c)</text>
<line x1="338.6" y1="1614" x2="415.9" y2="1614" stroke="#548235" stroke-width="9" stroke-linecap="round"/>
<circle cx="377.4" cy="1614" r="11.5" fill="#548235"/>
<text x="425.1" y="1624" font-size="36.4" text-anchor="start" font-weight="bold" >Load curve #3</text>
<line x1="689.2" y1="1614" x2="765.9" y2="1614" stroke="#000" stroke-width="9" stroke-linecap="round"/>
<circle cx="728" cy="1614" r="11.5" fill="#000"/>
<text x="775.9" y="1624" font-size="36.4" text-anchor="start" font-weight="bold" >Modified curve #3</text>
<polyline points="169.62,2074.5 222.47,2074.5 275.32,2074.5 328.17,2074.5 381.02,2074.5 433.88,2074.5 486.73,1908.6 539.58,1742.6 592.42,1742.6 645.27,1742.6 698.12,1742.6 750.97,1742.6 803.83,1742.6 856.67,1742.6 909.53,1742.6 962.38,1742.6 1015.22,1797.8 1068.08,1855.2 1120.92,1911.1 1173.78,1966.3 1226.62,2021.7 1279.48,2074.5 1332.33,2074.5 1385.18,2074.5" fill="none" stroke="#548235" stroke-width="9" stroke-linejoin="round" stroke-linecap="round"/>
<g fill="#548235"><circle cx="169.62" cy="2074.5" r="11.5"/><circle cx="222.47" cy="2074.5" r="11.5"/><circle cx="275.32" cy="2074.5" r="11.5"/><circle cx="328.17" cy="2074.5" r="11.5"/><circle cx="381.02" cy="2074.5" r="11.5"/><circle cx="433.88" cy="2074.5" r="11.5"/><circle cx="486.73" cy="1908.6" r="11.5"/><circle cx="539.58" cy="1742.6" r="11.5"/><circle cx="592.42" cy="1742.6" r="11.5"/><circle cx="645.27" cy="1742.6" r="11.5"/><circle cx="698.12" cy="1742.6" r="11.5"/><circle cx="750.97" cy="1742.6" r="11.5"/><circle cx="803.83" cy="1742.6" r="11.5"/><circle cx="856.67" cy="1742.6" r="11.5"/><circle cx="909.53" cy="1742.6" r="11.5"/><circle cx="962.38" cy="1742.6" r="11.5"/><circle cx="1015.22" cy="1797.8" r="11.5"/><circle cx="1068.08" cy="1855.2" r="11.5"/><circle cx="1120.92" cy="1911.1" r="11.5"/><circle cx="1173.78" cy="1966.3" r="11.5"/><circle cx="1226.62" cy="2021.7" r="11.5"/><circle cx="1279.48" cy="2074.5" r="11.5"/><circle cx="1332.33" cy="2074.5" r="11.5"/><circle cx="1385.18" cy="2074.5" r="11.5"/></g>
<polyline points="169.62,1908.7 222.47,1908.7 275.32,1908.7 328.17,1908.7 381.02,1908.7 433.88,1908.7 486.73,1908.7 539.58,1908.7 592.42,1908.7 645.27,1908.7 698.12,1908.7 750.97,1908.7 803.83,1908.7 856.67,1908.7 909.53,1908.7 962.38,1908.7 1015.22,1908.7 1068.08,1908.7 1120.92,1908.7 1173.78,1908.7 1226.62,1908.7 1279.48,1908.7 1332.33,1908.7 1385.18,1908.7" fill="none" stroke="#000" stroke-width="9" stroke-linejoin="round" stroke-linecap="round"/>
<g fill="#000"><circle cx="169.62" cy="1908.7" r="11.5"/><circle cx="222.47" cy="1908.7" r="11.5"/><circle cx="275.32" cy="1908.7" r="11.5"/><circle cx="328.17" cy="1908.7" r="11.5"/><circle cx="381.02" cy="1908.7" r="11.5"/><circle cx="433.88" cy="1908.7" r="11.5"/><circle cx="486.73" cy="1908.7" r="11.5"/><circle cx="539.58" cy="1908.7" r="11.5"/><circle cx="592.42" cy="1908.7" r="11.5"/><circle cx="645.27" cy="1908.7" r="11.5"/><circle cx="698.12" cy="1908.7" r="11.5"/><circle cx="750.97" cy="1908.7" r="11.5"/><circle cx="803.83" cy="1908.7" r="11.5"/><circle cx="856.67" cy="1908.7" r="11.5"/><circle cx="909.53" cy="1908.7" r="11.5"/><circle cx="962.38" cy="1908.7" r="11.5"/><circle cx="1015.22" cy="1908.7" r="11.5"/><circle cx="1068.08" cy="1908.7" r="11.5"/><circle cx="1120.92" cy="1908.7" r="11.5"/><circle cx="1173.78" cy="1908.7" r="11.5"/><circle cx="1226.62" cy="1908.7" r="11.5"/><circle cx="1279.48" cy="1908.7" r="11.5"/><circle cx="1332.33" cy="1908.7" r="11.5"/><circle cx="1385.18" cy="1908.7" r="11.5"/></g>
<path d="M158.97 1908.7h21.3v165.8h-21.3z" fill="#F4B183" stroke="#D9D9D9" stroke-width="3"/>
<path d="M211.82 1908.7h21.3v165.8h-21.3z" fill="#F4B183" stroke="#D9D9D9" stroke-width="3"/>
<path d="M264.68 1908.7h21.3v165.8h-21.3z" fill="#F4B183" stroke="#D9D9D9" stroke-width="3"/>
<path d="M317.52 1908.7h21.3v165.8h-21.3z" fill="#F4B183" stroke="#D9D9D9" stroke-width="3"/>
<path d="M370.38 1908.7h21.3v165.8h-21.3z" fill="#F4B183" stroke="#D9D9D9" stroke-width="3"/>
<path d="M423.23 1908.7h21.3v165.8h-21.3z" fill="#F4B183" stroke="#D9D9D9" stroke-width="3"/>
<rect x="476.08" y="1907.15" width="21.3" height="3.1" fill="#595959"/>
<path d="M528.93 1742.6h21.3v166.1h-21.3z" fill="#FFC000" stroke="#595959" stroke-width="3"/>
<path d="M581.77 1742.6h21.3v166.1h-21.3z" fill="#FFC000" stroke="#595959" stroke-width="3"/>
<path d="M634.62 1742.6h21.3v166.1h-21.3z" fill="#FFC000" stroke="#595959" stroke-width="3"/>
<path d="M687.48 1742.6h21.3v166.1h-21.3z" fill="#FFC000" stroke="#595959" stroke-width="3"/>
<path d="M740.32 1742.6h21.3v166.1h-21.3z" fill="#FFC000" stroke="#595959" stroke-width="3"/>
<path d="M793.18 1742.6h21.3v166.1h-21.3z" fill="#FFC000" stroke="#595959" stroke-width="3"/>
<path d="M846.02 1742.6h21.3v166.1h-21.3z" fill="#FFC000" stroke="#595959" stroke-width="3"/>
<path d="M898.88 1742.6h21.3v166.1h-21.3z" fill="#FFC000" stroke="#595959" stroke-width="3"/>
<path d="M951.73 1742.6h21.3v166.1h-21.3z" fill="#FFC000" stroke="#595959" stroke-width="3"/>
<path d="M1004.57 1797.8h21.3v110.9h-21.3z" fill="#FFC000" stroke="#595959" stroke-width="3"/>
<path d="M1057.42 1855.2h21.3v53.5h-21.3z" fill="#FFC000" stroke="#595959" stroke-width="3"/>
<path d="M1110.27 1908.7h21.3v2.4h-21.3z" fill="#F4B183" stroke="#D9D9D9" stroke-width="3"/>
<path d="M1163.12 1908.7h21.3v57.6h-21.3z" fill="#F4B183" stroke="#D9D9D9" stroke-width="3"/>
<path d="M1215.97 1908.7h21.3v113h-21.3z" fill="#F4B183" stroke="#D9D9D9" stroke-width="3"/>
<path d="M1268.83 1908.7h21.3v165.8h-21.3z" fill="#F4B183" stroke="#D9D9D9" stroke-width="3"/>
<path d="M1321.67 1908.7h21.3v165.8h-21.3z" fill="#F4B183" stroke="#D9D9D9" stroke-width="3"/>
<path d="M1374.53 1908.7h21.3v165.8h-21.3z" fill="#F4B183" stroke="#D9D9D9" stroke-width="3"/>
</svg>
</body></html>
